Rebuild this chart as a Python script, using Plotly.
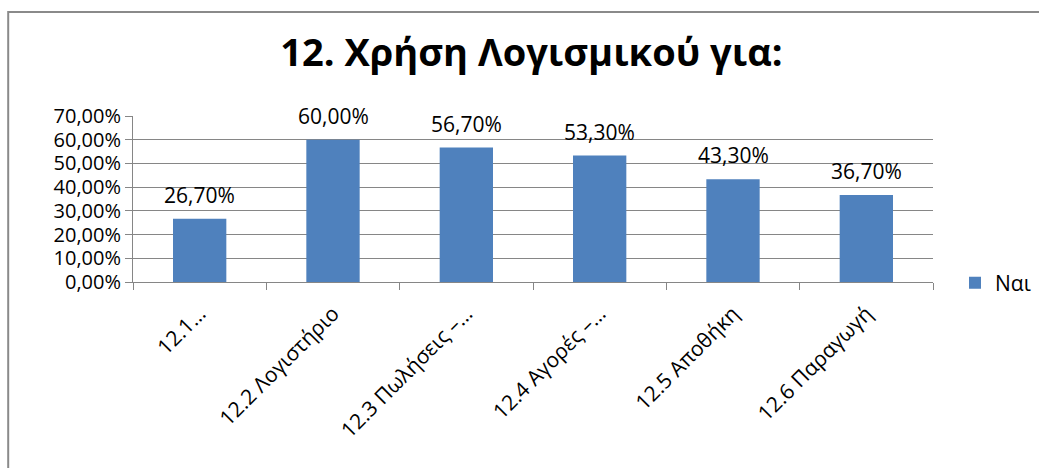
import plotly.graph_objects as go

categories = ["12.1…", "12.2 Λογιστήριο", "12.3 Πωλήσεις –…", "12.4 Αγορές –…", "12.5 Αποθήκη", "12.6 Παραγωγή"]
values = [0.267, 0.600, 0.567, 0.533, 0.433, 0.367]
series_name = "Ναι"
title_text = "12. Χρήση Λογισμικού για:"
y_ticks = [0, 0.1, 0.2, 0.3, 0.4, 0.5, 0.6, 0.7]

FONT = "Open Sans"
GRAY = "#868686"

fig = go.Figure()
fig.add_trace(go.Bar(
    x=categories, y=values, name=series_name,
    marker=dict(color="#4F81BD", line=dict(width=0)),
    width=0.4,
))

for c, v in zip(categories, values):
    fig.add_annotation(
        x=c, y=v, text=f"{v*100:.2f}%".replace(".", ","),
        showarrow=False, yanchor="bottom", yshift=8,
        font=dict(family=FONT, size=21, color="black"),
    )

fig.add_shape(type="rect", xref="paper", yref="paper",
              x0=-0.156, x1=1.5, y0=-2.0, y1=1.627,
              line=dict(color="#8a8a8a", width=2), layer="below")

fig.update_layout(
    width=1039, height=468,
    margin=dict(l=133, r=106, t=116, b=186),
    paper_bgcolor="white", plot_bgcolor="white",
    separators=",.",
    showlegend=True,
    legend=dict(x=955 / 1039, xref="container", xanchor="left",
                y=1 - 283 / 468, yref="container", yanchor="middle",
                itemwidth=30,
                font=dict(family=FONT, size=21, color="black"),
                bgcolor="rgba(0,0,0,0)"),
    title=dict(text=f"<b>{title_text}</b>", x=0.5115, xanchor="center",
               xref="container", y=0.887, yref="container", yanchor="middle",
               font=dict(family=FONT, size=38, color="black")),
    bargap=0.6,
)
fig.update_yaxes(
    range=[0, 0.7], tickvals=y_ticks, tickformat=".2%",
    showgrid=True, gridcolor=GRAY, gridwidth=1,
    showline=True, linecolor=GRAY, linewidth=1,
    ticks="outside", ticklen=7, tickcolor=GRAY,
    tickfont=dict(family=FONT, size=20, color="black"),
    zeroline=False, automargin=False,
)
fig.update_xaxes(
    tickangle=-45, tickson="boundaries",
    showline=True, linecolor=GRAY, linewidth=1,
    ticks="outside", ticklen=7, tickcolor=GRAY,
    ticklabelstandoff=10,
    tickfont=dict(family=FONT, size=21, color="black"),
    showgrid=False, automargin=False,
)

fig.write_html(
    "out.html",
    config={"displayModeBar": False},
    post_script="document.body.style.margin='0';document.body.style.overflow='hidden';",
)
